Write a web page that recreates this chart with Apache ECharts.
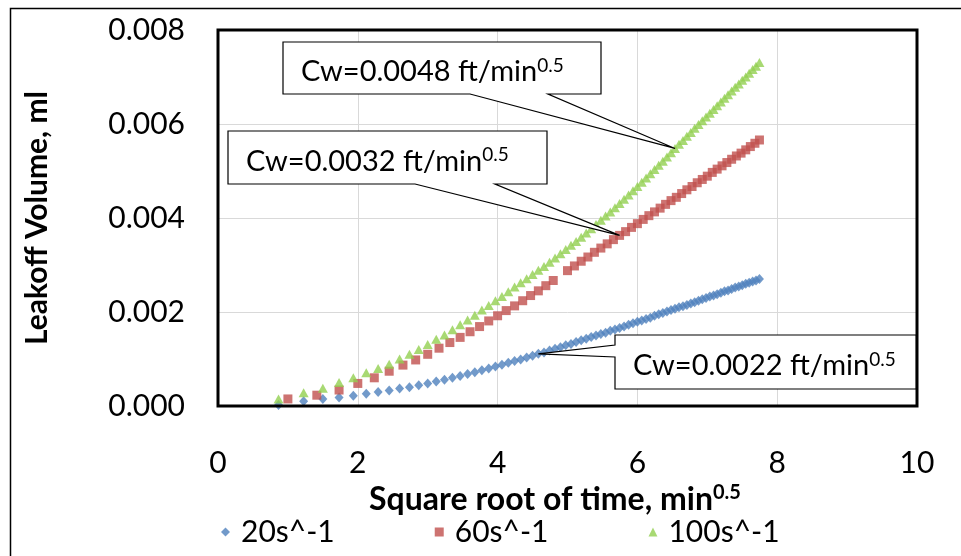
<!DOCTYPE html>
<html><head><meta charset="utf-8">
<script src="https://cdn.jsdelivr.net/npm/echarts@6/dist/echarts.min.js"></script>
<style>html,body{margin:0;padding:0;background:#fff}#c{width:961px;height:556px}</style>
</head><body><div id="c"></div>
<script>
// ---- data ----
const sqrtTimeA = [0.866,1.225,1.5,1.732,1.936,2.121,2.291,2.449,2.598,2.739,2.872,3.0,3.122,3.24,3.354,
  3.464,3.571,3.674,3.775,3.873,3.969,4.062,4.153,4.243,4.33,4.416,4.5,4.583,4.664,4.743,
  4.822,4.899,4.975,5.05,5.123,5.196,5.268,5.339,5.408,5.477,5.545,5.612,5.679,5.745,5.809,
  5.874,5.937,6.0,6.062,6.124,6.185,6.245,6.305,6.364,6.423,6.481,6.538,6.595,6.652,6.708,
  6.764,6.819,6.874,6.928,6.982,7.036,7.089,7.141,7.194,7.246,7.297,7.348,7.399,7.45,7.5,7.55,7.599,7.649,7.697,7.746];
const leak20 = [0.00002,0.0001,0.00015,0.00018,0.00022,0.00026,0.0003,0.00033,0.00037,0.0004,0.00044,0.00048,0.00052,0.00056,0.0006,
  0.00064,0.00068,0.00072,0.00076,0.0008,0.00084,0.00088,0.00092,0.00096,0.00099,0.00103,0.00107,0.00111,0.00114,0.00118,
  0.00122,0.00125,0.00129,0.00132,0.00136,0.0014,0.00143,0.00147,0.0015,0.00153,0.00156,0.0016,0.00163,0.00166,0.00169,
  0.00173,0.00176,0.00179,0.00182,0.00185,0.00188,0.00192,0.00195,0.00198,0.00201,0.00204,0.00207,0.0021,0.00212,0.00215,
  0.00218,0.00221,0.00224,0.00227,0.0023,0.00233,0.00235,0.00238,0.00241,0.00244,0.00246,0.00249,0.00252,0.00254,0.00257,0.0026,0.00262,0.00265,0.00267,0.0027];
const leak100 = [0.00015,0.00028,0.00038,0.0005,0.0006,0.00071,0.0008,0.00089,0.001,0.0011,0.0012,0.00131,0.00142,0.00151,0.00162,
  0.00173,0.00183,0.00193,0.00204,0.00214,0.00224,0.00233,0.00243,0.00253,0.00262,0.00271,0.0028,0.00289,0.00297,0.00306,
  0.00315,0.00324,0.00333,0.00342,0.0035,0.00359,0.00368,0.00377,0.00386,0.00395,0.00404,0.00413,0.00422,0.00431,0.0044,
  0.00449,0.00458,0.00467,0.00476,0.00485,0.00494,0.00503,0.00512,0.00521,0.0053,0.00539,0.00548,0.00557,0.00565,0.00574,
  0.00582,0.00591,0.00599,0.00607,0.00615,0.00623,0.00631,0.00639,0.00647,0.00655,0.00662,0.0067,0.00678,0.00685,0.00693,0.007,0.00708,0.00716,0.00723,0.00731];
const sqrtTimeB = [1.0,1.414,1.732,2.0,2.236,2.449,2.646,2.828,3.0,3.162,3.317,3.464,3.606,3.742,3.873,4.0,4.123,4.243,4.359,4.472,4.583,4.69,4.796,
  5.0,5.099,5.196,5.292,5.385,5.477,5.568,5.657,5.745,5.831,5.916,6.0,6.083,6.164,6.245,6.325,6.403,6.481,6.557,6.633,6.708,6.782,6.856,6.928,
  7.0,7.071,7.141,7.211,7.28,7.348,7.416,7.483,7.55,7.616,7.681,7.746];
const leak60 = [0.00015,0.00023,0.00034,0.00048,0.0006,0.00074,0.00087,0.00098,0.0011,0.00123,0.00135,0.00146,0.00158,0.00169,0.00181,0.00192,0.00203,0.00213,0.00224,0.00235,0.00245,0.00256,0.00267,
  0.00288,0.00298,0.00308,0.00317,0.00327,0.00336,0.00345,0.00354,0.00363,0.00371,0.0038,0.00388,0.00397,0.00405,0.00413,0.00421,0.00429,0.00437,0.00444,0.00452,0.0046,0.00467,0.00475,0.00482,
  0.00489,0.00497,0.00504,0.00511,0.00518,0.00525,0.00532,0.00538,0.00545,0.00552,0.00559,0.00566];
const seriesNames = ['20s^-1', '60s^-1', '100s^-1'];
const cwValues = ['0.0048', '0.0032', '0.0022'];
const xAxisRange = [0, 10, 2];
const yAxisRange = [0, 0.008, 0.002];

// ---- styles / layout ----
const FONT = 'Lato';
const colors = ['#4F81BD', '#C0504D', '#92D050'];
const chart = echarts.init(document.getElementById('c'));
const pts = (xs, ys) => xs.map((x, i) => [x, ys[i]]);

chart.setOption({
  animation: false,
  backgroundColor: '#fff',
  grid: { left: 218, top: 30, right: 44, bottom: 150, show: false },
  xAxis: {
    type: 'value', min: xAxisRange[0], max: xAxisRange[1], interval: xAxisRange[2],
    axisLine: { show: false }, axisTick: { show: false },
    splitLine: { show: true, showMinLine: false, showMaxLine: false, lineStyle: { color: '#d9d9d9', width: 1 } },
    axisLabel: { fontFamily: FONT, fontSize: 30, color: '#000', margin: 42 },
    name: '{b|Square root of time, min}{s|0.5}',
    nameLocation: 'middle', nameGap: 68,
    nameTextStyle: {
      padding: [0, 25, 0, 0],
      rich: {
        b: { fontFamily: FONT, fontSize: 32, fontWeight: 'bold', color: '#000', lineHeight: 34 },
        s: { fontFamily: FONT, fontSize: 20, fontWeight: 'bold', color: '#000', verticalAlign: 'top', lineHeight: 34 }
      }
    }
  },
  yAxis: {
    type: 'value', min: yAxisRange[0], max: yAxisRange[1], interval: yAxisRange[2],
    axisLine: { show: false }, axisTick: { show: false },
    splitLine: { show: true, showMinLine: false, showMaxLine: false, lineStyle: { color: '#d9d9d9', width: 1 } },
    axisLabel: { fontFamily: FONT, fontSize: 30, color: '#000', margin: 33, formatter: v => v.toFixed(3) },
    name: 'Leakoff Volume, ml', nameLocation: 'middle', nameRotate: 90, nameGap: 166,
    nameTextStyle: { fontFamily: FONT, fontSize: 30, fontWeight: 'bold', color: '#000' }
  },
  legend: {
    left: 216, top: 512, itemWidth: 9, itemHeight: 9, itemGap: 100,
    textStyle: { fontFamily: FONT, fontSize: 30, color: '#000', padding: [0, 0, 0, 6] },
    data: seriesNames
  },
  series: [
    { name: seriesNames[0], type: 'scatter', symbol: 'diamond', symbolSize: [9, 10], itemStyle: { color: colors[0] }, data: pts(sqrtTimeA, leak20) },
    { name: seriesNames[1], type: 'scatter', symbol: 'rect', symbolSize: 9, itemStyle: { color: colors[1] }, data: pts(sqrtTimeB, leak60) },
    { name: seriesNames[2], type: 'scatter', symbol: 'triangle', symbolSize: [10, 9], itemStyle: { color: colors[2] }, data: pts(sqrtTimeA, leak100) }
  ]
});

// callouts: box in px (layout), pointer tip taken from a data point via the chart scales
const callouts = [
  { cw: cwValues[0], box: [283, 42, 601, 94], side: 'bottom', base: [470, 548], xs: sqrtTimeA, ys: leak100, i: 56 },
  { cw: cwValues[1], box: [228, 131, 547, 184], side: 'bottom', base: [415, 495], xs: sqrtTimeB, ys: leak60, i: 31 },
  { cw: cwValues[2], box: [615, 335, 916, 389], side: 'left', base: [345, 357], xs: sqrtTimeA, ys: leak20, i: 27 }
];
const g = [];
const tl = chart.convertToPixel({ gridIndex: 0 }, [xAxisRange[0], yAxisRange[1]]);
const br = chart.convertToPixel({ gridIndex: 0 }, [xAxisRange[1], yAxisRange[0]]);
g.push({ type: 'rect', z: 20, silent: true, shape: { x: tl[0], y: tl[1], width: br[0] - tl[0], height: br[1] - tl[1] },
  style: { fill: 'none', stroke: '#000', lineWidth: 3 } });
g.push({ type: 'rect', z: 20, silent: true, shape: { x: 10.5, y: 8.5, width: 1200, height: 800 },
  style: { fill: 'none', stroke: '#000', lineWidth: 1.5 } });
callouts.forEach(c => {
  const tip = chart.convertToPixel({ gridIndex: 0 }, [c.xs[c.i], c.ys[c.i]]);
  const [L, T, R, B] = c.box;
  let points;
  if (c.side === 'bottom') {
    points = [[L, T], [R, T], [R, B], [c.base[1], B], tip, [c.base[0], B], [L, B]];
  } else {
    points = [[L, T], [R, T], [R, B], [L, B], [L, c.base[1]], tip, [L, c.base[0]]];
  }
  g.push({ type: 'polygon', z: 30, silent: true, shape: { points },
    style: { fill: '#fff', stroke: '#000', lineWidth: 1.2 } });
  g.push({ type: 'text', z: 31, silent: true, x: L + 18, y: (T + B) / 2 + 4,
    style: {
      text: '{m|Cw=' + c.cw + ' ft/min}{s|0.5}',
      verticalAlign: 'middle', align: 'left',
      rich: {
        m: { fontFamily: FONT, fontSize: 29, fill: '#000', lineHeight: 32 },
        s: { fontFamily: FONT, fontSize: 19, fill: '#000', verticalAlign: 'top', lineHeight: 32 }
      }
    } });
});
chart.setOption({ graphic: g });
</script>
</body></html>
